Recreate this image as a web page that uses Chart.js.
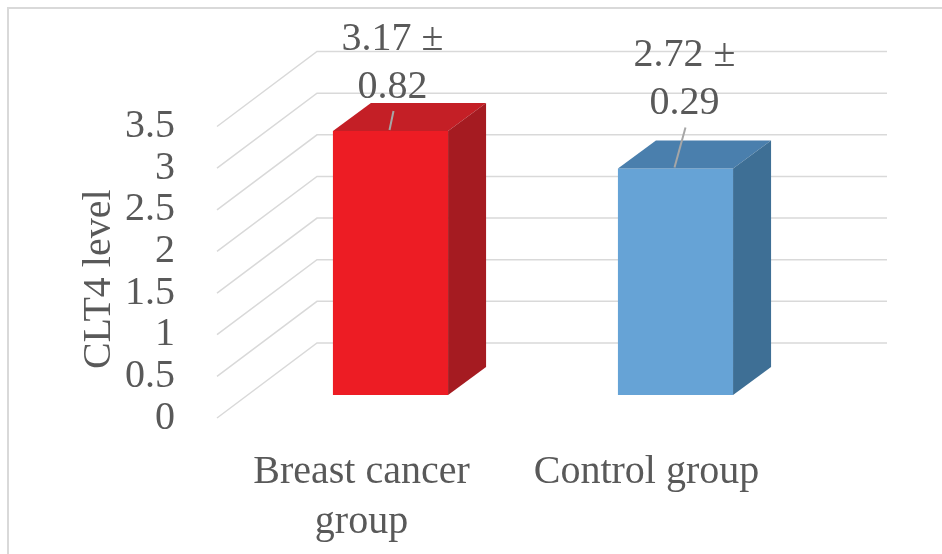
<!DOCTYPE html>
<html>
<head>
<meta charset="utf-8">
<script src="https://cdn.jsdelivr.net/npm/chart.js@4/dist/chart.umd.min.js"></script>
<style>
  body { margin: 0; background: #fff; }
  canvas { display: block; }
</style>
</head>
<body>
<canvas id="cltChart" width="942" height="554"></canvas>
<script>
// data
const categories = [['Breast cancer', 'group'], 'Control group'];
const meanValues = [3.17, 2.72];
const sdValues = [0.82, 0.29];
const yTickValues = [0, 0.5, 1, 1.5, 2, 2.5, 3, 3.5];
const axisTitle = 'CLT4 level';

// look
const FONT = 'Liberation Serif';
const TEXT = '#595959';
const GRID = '#d9d9d9';
const frontColors = ['#ed1c24', '#66a3d6'];
const topColors = ['#c41f26', '#4a7fad'];
const sideColors = ['#a51b21', '#3e6f95'];
// 3d offsets (px) from the bar front plane
const BACK_WALL = { dx: 69, dy: -52 };
const FLOOR_FRONT = { dx: -31, dy: 23 };
const BAR_DEPTH = { dx: 38, dy: -28 };
// where excel left the data labels, relative to top of bar
const labelNudges = [[2, -33], [9, -54]];

const fake3d = {
  id: 'fake3d',
  beforeDraw(chart) {
    const ctx = chart.ctx;
    ctx.save();
    ctx.strokeStyle = GRID;
    ctx.lineWidth = 2;
    ctx.strokeRect(8, 8, chart.width + 20, chart.height + 20);
    ctx.restore();
  },
  beforeDatasetsDraw(chart) {
    const { ctx, chartArea, scales: { y } } = chart;
    ctx.save();
    ctx.strokeStyle = GRID;
    ctx.lineWidth = 1.5;
    yTickValues.forEach(v => {
      const py = y.getPixelForValue(v);
      const bx = chartArea.left + BACK_WALL.dx;
      const by = py + BACK_WALL.dy;
      ctx.beginPath();
      ctx.moveTo(chartArea.left + FLOOR_FRONT.dx, py + FLOOR_FRONT.dy);
      ctx.lineTo(bx, by);
      ctx.lineTo(chartArea.right + BACK_WALL.dx, by);
      ctx.stroke();
    });
    ctx.restore();

    // axis title
    ctx.save();
    ctx.translate(99, (chartArea.top + chartArea.bottom) / 2 + 30);
    ctx.rotate(-Math.PI / 2);
    ctx.font = '40px "' + FONT + '"';
    ctx.fillStyle = TEXT;
    ctx.textAlign = 'center';
    ctx.textBaseline = 'middle';
    ctx.fillText(axisTitle, 0, 0);
    ctx.restore();
  },
  afterDatasetsDraw(chart) {
    const ctx = chart.ctx;
    const meta = chart.getDatasetMeta(0);
    meta.data.forEach((bar, i) => {
      const p = bar.getProps(['x', 'y', 'base', 'width'], true);
      const l = p.x - p.width / 2, r = p.x + p.width / 2;
      const t = p.y, b = p.base;
      const dx = BAR_DEPTH.dx, dy = BAR_DEPTH.dy;
      ctx.save();
      // top face
      ctx.fillStyle = topColors[i];
      ctx.beginPath();
      ctx.moveTo(l, t); ctx.lineTo(r, t); ctx.lineTo(r + dx, t + dy); ctx.lineTo(l + dx, t + dy);
      ctx.closePath(); ctx.fill();
      // side face
      ctx.fillStyle = sideColors[i];
      ctx.beginPath();
      ctx.moveTo(r, t); ctx.lineTo(r + dx, t + dy); ctx.lineTo(r + dx, b + dy); ctx.lineTo(r, b);
      ctx.closePath(); ctx.fill();

      // data label "mean ± sd" with leader line
      const lx = p.x + labelNudges[i][0];
      const base2 = t + labelNudges[i][1];
      ctx.strokeStyle = '#a6a6a6';
      ctx.lineWidth = 2;
      ctx.beginPath();
      ctx.moveTo(lx + 1, base2 + 13);
      ctx.lineTo(p.x - 1, t - 1);
      ctx.stroke();
      ctx.font = '40px "' + FONT + '"';
      ctx.fillStyle = TEXT;
      ctx.textAlign = 'center';
      ctx.textBaseline = 'alphabetic';
      ctx.fillText(meanValues[i].toFixed(2) + ' \u00b1', lx, base2 - 48);
      ctx.fillText(sdValues[i].toFixed(2), lx, base2);
      ctx.restore();
    });
  }
};

new Chart(document.getElementById('cltChart'), {
  type: 'bar',
  data: {
    labels: categories,
    datasets: [{
      data: meanValues,
      backgroundColor: frontColors,
      borderWidth: 0,
      categoryPercentage: 1,
      barPercentage: 0.404
    }]
  },
  options: {
    responsive: false,
    animation: false,
    devicePixelRatio: 1,
    layout: { padding: { top: 103.5, right: 124, left: 0, bottom: 0 } },
    scales: {
      y: {
        min: 0,
        max: 3.5,
        afterBuildTicks: axis => { axis.ticks = yTickValues.map(v => ({ value: v })); },
        afterFit: axis => { axis.width = 248; },
        grid: { display: false },
        border: { display: false },
        ticks: {
          autoSkip: false,
          padding: 65,
          labelOffset: 23,
          color: TEXT,
          font: { family: FONT, size: 40 },
          callback: value => String(value)
        }
      },
      x: {
        afterFit: axis => { axis.height = 159; },
        grid: { display: false },
        border: { display: false },
        ticks: {
          autoSkip: false,
          maxRotation: 0,
          padding: 44,
          labelOffset: -29,
          color: TEXT,
          font: { family: FONT, size: 40, lineHeight: 1.25 }
        }
      }
    },
    plugins: {
      legend: { display: false },
      tooltip: { enabled: false }
    }
  },
  plugins: [fake3d]
});
</script>
</body>
</html>
